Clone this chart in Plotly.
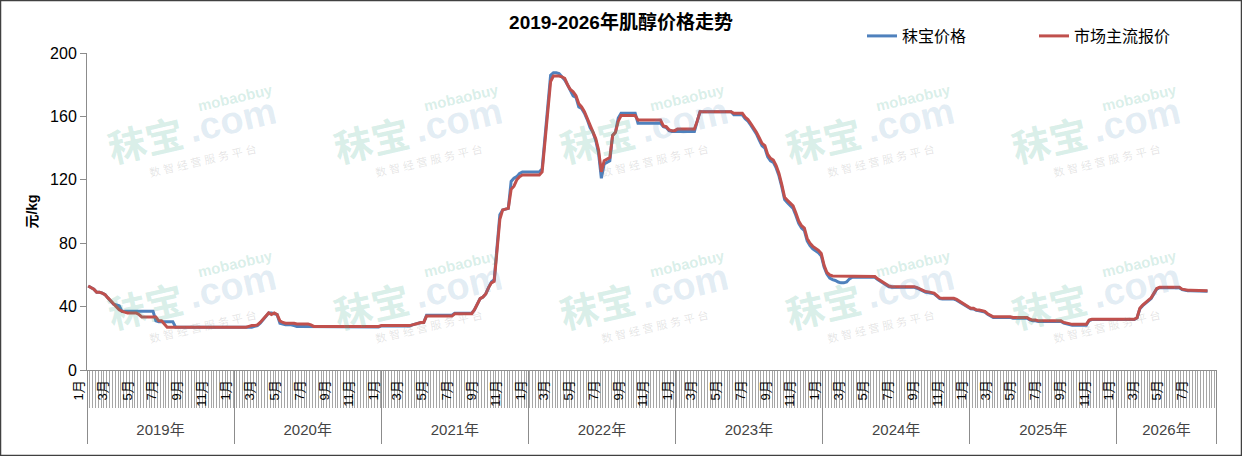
import pandas as pd
import plotly.graph_objects as go

# weekly prices (元/kg), one list per year
# 秣宝价格 (blue)
mobao_2019 = [53, 52, 51, 49, 49, 48.5, 47.5, 45.5, 43.5, 41.5, 41, 40.5, 37, 37,
              37, 37, 37, 37, 37, 37, 37, 37, 37, 37,
              31, 30.5, 30.5, 30.5, 30.5, 30.5, 30.5,
              27, 27, 27, 27, 27, 27, 27, 27, 27, 27, 27, 27, 27, 27, 27, 27, 27, 27, 27, 27, 27]
mobao_2020 = [27, 27, 27, 27, 27, 27, 27, 27.5, 28, 29.5, 31.5, 34, 36, 36, 35.5, 35, 29.5,
              29, 28.5, 28.5, 28.5, 28, 27.5, 27.5, 27.5, 27.5, 27.5, 27.5,
              27.2, 27.2, 27.2, 27.2, 27.2, 27.2, 27.2, 27.2, 27.2, 27.2, 27.2, 27.2,
              27.2, 27.2, 27.2, 27.2, 27.2, 27.2, 27.2, 27.2, 27.2, 27.2, 27.2, 27.2]
mobao_2021 = [27.8, 27.8, 27.8, 27.8, 27.8, 27.8, 27.8, 27.8, 27.8, 27.8, 27.8,
              28.5, 29, 29.5, 30, 30,
              34.5, 34.5, 34.5, 34.5, 34.5, 34.5, 34.5, 34.5, 34.5, 34.5,
              35.8, 35.8, 35.8, 35.8, 35.8, 35.8, 35.8,
              38, 42, 45, 46, 48, 52, 55.5, 57, 78, 98, 101, 101.5, 102,
              119, 121, 122, 124, 125, 125, 125]
mobao_2022 = [125, 125, 125, 125, 127, 148, 168, 186, 187.5, 187.5, 187, 185, 183, 180,
              176, 173, 172, 166, 165, 162, 158, 153, 150, 145, 137, 121, 130, 131, 132,
              148, 150, 159, 162, 162, 162, 162, 162, 162,
              155.6, 155.6, 155.6, 155.6, 155.6, 155.6, 155.6, 155.6, 155.6,
              153.5, 153, 151, 150.5, 150.5]
mobao_2023 = [150.5, 150.5, 150.5, 150.5, 150.5, 150.5, 150.5, 157,
              163, 163, 163, 163, 163, 163, 163, 163, 163, 163, 163, 163,
              161, 161, 161, 161, 158.5, 157, 154.5, 152, 149, 145, 141.5, 140, 134.5,
              132, 131, 127.5, 122.5, 115.5, 107.5, 105.5, 104, 102, 97.5, 92.5, 89.5,
              88, 81.5, 78.5, 76.5, 75.5, 74, 72]
mobao_2024 = [65, 60.5, 58, 57, 56.5, 55.5, 55, 55, 55.5, 57.5,
              58.5, 58.5, 58.5, 58.5, 58.5, 58.5, 58.5, 58.5, 58.5,
              57, 56, 54.5, 53.5, 52.5,
              52.2, 52.2, 52.2, 52.2, 52.2, 52.2, 52.2, 52.2, 52.2,
              51.6, 50.6, 49.6, 49.1, 48.9, 48.6, 48.1, 46.6, 45.1,
              44.8, 44.8, 44.8, 44.8, 44.8, 44.1, 43.1, 41.6, 40.6, 39.6]
mobao_2025 = [38.6, 38.5, 37.6, 37.4, 37.1, 36.6, 35.1, 34.1,
              33.2, 33.2, 33.2, 33.2, 33.2, 33.2, 33.2,
              32.7, 32.7, 32.7, 32.7, 32.7, 32.7, 31.6, 31.1, 31.1,
              30.6, 30.6, 30.6, 30.6, 30.6, 30.6, 30.6, 30.6, 30.6, 29.6, 29.1, 28.6,
              28.3, 28.3, 28.3, 28.3, 28.3, 28.3, 31.2,
              31.8, 31.8, 31.8, 31.8, 31.8, 31.8, 31.8, 31.8, 31.8]
mobao_2026 = [31.8, 31.8, 31.8, 31.8, 31.8, 31.8, 31.8, 32.8, 38.6, 40.6, 42.1, 43.6,
              45.1, 48.1, 51.1, 51.9, 51.9, 51.9, 51.9, 51.9, 51.9, 51.9, 51.9,
              50.7, 50.2, 50, 50, 50, 50, 49.7, 49.7, 49.7, 49.7]

# 市场主流报价 (red)
market_2019 = [53, 52, 51, 49, 49, 48.5, 47.5, 45.5, 43.5, 41.5, 39.5, 38, 37, 36.5,
               36, 36, 36, 36, 35, 33.5, 33.5, 33.5, 33.5, 33.5, 33.5, 31, 31, 29, 27,
               27, 27, 27, 27, 27, 27, 27, 27, 27, 27, 27, 27, 27, 27, 27, 27, 27, 27, 27, 27, 27, 27, 27]
market_2020 = [27, 27, 27, 27, 27, 27.5, 28, 28, 28.5, 30, 32, 34, 36, 35, 36, 35, 31,
               30, 29.5, 29.5, 29.5, 29.5, 29, 29, 29, 29, 29, 28.5,
               27.5, 27.5, 27.5, 27.5, 27.5, 27.5, 27.5, 27.5, 27.5, 27.5, 27.5, 27.5,
               27.5, 27.5, 27.5, 27.5, 27.5, 27.5, 27.5, 27.5, 27.5, 27.5, 27.5, 27.5]
market_2021 = [28, 28, 28, 28, 28, 28, 28, 28, 28, 28, 28,
               28.5, 29, 29.5, 30, 30,
               34, 34, 34, 34, 34, 34, 34, 34, 34, 34,
               35.5, 35.5, 35.5, 35.5, 35.5, 35.5, 35.5,
               38, 42, 45, 46, 48, 52, 55, 56, 75, 95, 101, 101.5, 102,
               114, 116, 120, 122, 123, 123, 123]
market_2022 = [123, 123, 123, 123, 125, 145, 165, 182, 185.5, 185.5, 185.5, 185, 184, 180,
               177, 175.5, 173, 168, 166, 163, 159, 154, 151, 146, 139, 125, 132, 133, 134,
               148, 150, 157, 160.5, 160.5, 160.5, 160.5, 160.5, 160.5,
               157.7, 157.7, 157.7, 157.7, 157.7, 157.7, 157.7, 157.7, 157.7,
               154, 153.5, 151.5, 151, 151]
market_2023 = [152, 152, 152, 152, 152, 152, 152, 157,
               163, 163, 163, 163, 163, 163, 163, 163, 163, 163, 163, 163,
               162, 162, 162, 162, 159.5, 158, 155.5, 153, 150, 146.5, 143, 141.5, 136,
               133.5, 132.5, 129, 124, 117, 109, 107, 105.5, 103.5, 99, 94, 91,
               89.5, 83, 80, 78, 77, 75.5, 73.5]
market_2024 = [66, 61.5, 60, 59.3, 59.3, 59, 59, 59, 59, 59,
               59, 59, 59, 59, 59, 59, 59, 59, 59,
               57.5, 56.5, 55, 54, 53,
               52.6, 52.6, 52.6, 52.6, 52.6, 52.6, 52.6, 52.6, 52.6,
               52, 51, 50, 49.5, 49.3, 49, 48.5, 47, 45.5,
               45.2, 45.2, 45.2, 45.2, 45.2, 44.5, 43.5, 42, 41, 40]
market_2025 = [39, 38.9, 38, 37.8, 37.5, 37, 35.5, 34.5,
               33.6, 33.6, 33.6, 33.6, 33.6, 33.6, 33.6,
               33.1, 33.1, 33.1, 33.1, 33.1, 33.1, 32, 31.5, 31.5,
               31, 31, 31, 31, 31, 31, 31, 31, 31, 30, 29.5, 29,
               28.8, 28.8, 28.8, 28.8, 28.8, 28.8, 31.5,
               32, 32, 32, 32, 32, 32, 32, 32, 32]
market_2026 = [32, 32, 32, 32, 32, 32, 32, 33, 39, 41, 42.5, 44,
               45.5, 48.5, 51.5, 52.2, 52.2, 52.2, 52.2, 52.2, 52.2, 52.2, 52.2,
               51, 50.5, 50.3, 50.3, 50.3, 50.3, 50, 50, 50, 50]

year_labels = ["2019年", "2020年", "2021年", "2022年", "2023年", "2024年", "2025年", "2026年"]

mobao = (mobao_2019 + mobao_2020 + mobao_2021 + mobao_2022 + mobao_2023
         + mobao_2024 + mobao_2025 + mobao_2026)
market = (market_2019 + market_2020 + market_2021 + market_2022 + market_2023
          + market_2024 + market_2025 + market_2026)
week_dates = pd.date_range("2019-01-04", periods=len(mobao), freq="7D")

X_START, X_END = pd.Timestamp("2019-01-01"), pd.Timestamp("2026-09-04")
month_ticks = pd.date_range("2019-01-01", "2026-07-01", freq="2MS")
week_ticks = pd.date_range(X_START, X_END, freq="7D")
year_starts = [pd.Timestamp(f"{2019 + i}-01-01") for i in range(len(year_labels))]
year_bounds = year_starts + [X_END]
year_mids = [a + (b - a) / 2 for a, b in zip(year_bounds[:-1], year_bounds[1:])]

FONT = "Liberation Sans, Arial, Noto Sans CJK SC, sans-serif"
AXIS_GREY = "#8c8c8c"

fig = go.Figure()
fig.add_trace(go.Scatter(x=week_dates, y=mobao, name="秣宝价格", mode="lines",
                         line=dict(color="#4F81BD", width=3)))
fig.add_trace(go.Scatter(x=week_dates, y=market, name="市场主流报价", mode="lines",
                         line=dict(color="#C0504D", width=3)))
# empty trace so the year axis gets drawn
fig.add_trace(go.Scatter(x=[X_START], y=[None], xaxis="x2", showlegend=False,
                         hoverinfo="skip"))

# plot area in pixels: x 87..1216, y 53..444 (axis line at 370)
def to_paper(px, py):
    return (px - 87) / 1129, (444 - py) / 391

# faint watermark, like the original
for cy in [130, 296]:
    for cx in [191, 417, 643, 869, 1095]:
        parts = [
            ("<b>秣宝</b>", -45, 12, 38, "rgba(60,170,140,0.2)"),
            ("<b>.com</b>", 41, -10, 38, "rgba(80,140,190,0.17)"),
            ("<b>mobaobuy</b>", 44, -33, 15, "rgba(60,170,140,0.2)"),
            ("数 智 经 营 服 务 平 台", 11, 30, 11, "rgba(120,120,120,0.2)"),
        ]
        for txt, dx, dy, size, col in parts:
            px_, py_ = to_paper(cx + dx, cy + dy)
            fig.add_annotation(x=px_, y=py_, xref="paper", yref="paper", text=txt,
                               showarrow=False, textangle=-13,
                               xanchor="center", yanchor="middle",
                               font=dict(size=size, color=col, family=FONT))

# outer frame
x0, y0 = to_paper(0.5, 455.5)
x1, y1 = to_paper(1241.5, 0.5)
fig.add_shape(type="rect", xref="paper", yref="paper", x0=x0, y0=y0, x1=x1, y1=y1,
              line=dict(color="#404040", width=1.5))

fig.update_layout(
    template="none",
    width=1242, height=456,
    margin=dict(l=87, r=26, t=53, b=12, autoexpand=False),
    paper_bgcolor="white", plot_bgcolor="white",
    font=dict(family=FONT, size=15, color="black"),
    title=dict(text="<b>2019-2026年肌醇价格走势</b>", x=0.5, xref="container",
               y=1 - 22 / 456, yref="container", xanchor="center", yanchor="middle",
               font=dict(size=19, color="black")),
    showlegend=True,
    legend=dict(orientation="h", x=(862 - 87) / 1129, y=(444 - 36) / 391,
                xanchor="left", yanchor="middle", entrywidth=127,
                entrywidthmode="pixels", font=dict(size=16),
                bgcolor="rgba(0,0,0,0)"),
    xaxis=dict(
        type="date", range=[X_START, X_END], anchor="y", automargin=False,
        showgrid=False, zeroline=False, showline=True, linecolor=AXIS_GREY,
        tickvals=list(month_ticks), ticktext=[f"{d.month}月" for d in month_ticks],
        ticks="", tickangle=-90, tickfont=dict(size=13), ticklabelshift=-8,
        ticklabelstandoff=4,
        minor=dict(tickvals=list(week_ticks), ticks="outside", ticklen=37,
                   tickcolor="#a6a6a6", tickwidth=1, showgrid=False),
    ),
    xaxis2=dict(
        type="date", matches="x", overlaying="x", anchor="free", position=0,
        automargin=False, showgrid=False, zeroline=False, showline=False,
        tickvals=year_mids, ticktext=year_labels, ticks="",
        ticklabelposition="inside", ticklabelstandoff=3, tickfont=dict(size=15),
        minor=dict(tickvals=year_bounds, ticks="inside", ticklen=74,
                   tickcolor=AXIS_GREY, tickwidth=1, showgrid=False),
    ),
    yaxis=dict(
        domain=[(444 - 370) / 391, 1], range=[0, 200], dtick=40, automargin=False,
        showgrid=False, zeroline=False, showline=True, linecolor=AXIS_GREY,
        ticks="outside", ticklen=6, tickcolor=AXIS_GREY, tickfont=dict(size=16),
        title=dict(text="<b>元/kg</b>", font=dict(size=14), standoff=9),
    ),
)

# the page's default body margin would shift the figure by 8px
fig.write_html("out.html", config={"displayModeBar": False},
               post_script="document.body.style.margin='0px';")
